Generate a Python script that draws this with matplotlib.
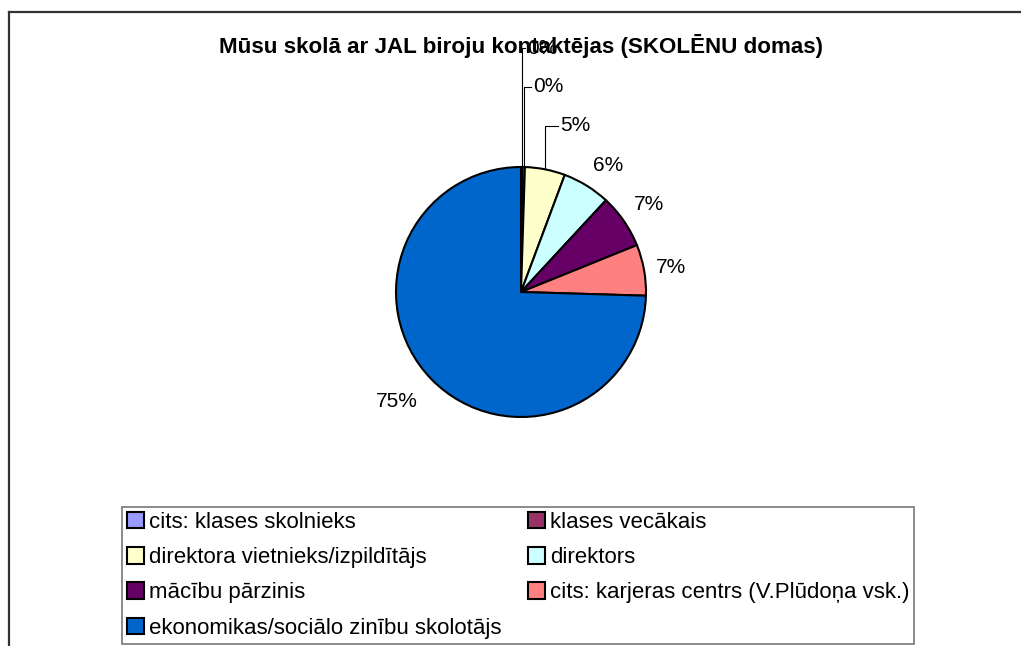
import matplotlib
matplotlib.use("Agg")
import matplotlib.pyplot as plt
import numpy as np

plt.rcParams['font.family'] = ['Liberation Sans', 'DejaVu Sans']

title = "Mūsu skolā ar JAL biroju kontaktējas (SKOLĒNU domas)"
categories = [
    "cits: klases skolnieks",
    "klases vecākais",
    "direktora vietnieks/izpildītājs",
    "direktors",
    "mācību pārzinis",
    "cits: karjeras centrs (V.Plūdoņa vsk.)",
    "ekonomikas/sociālo zinību skolotājs",
]
values = [0.15, 0.35, 5.2, 6.2, 7.0, 6.6, 74.6]
colors = ["#9999FF", "#993366", "#FFFFCC", "#CCFFFF", "#660066", "#FF8080", "#0066CC"]

W, H = 1021, 646
fig = plt.figure(figsize=(W / 100, H / 100), dpi=100)

# outer chart frame (extends past right/bottom edge)
fig.add_artist(plt.Line2D([9 / W, 1.01], [1 - 12 / H, 1 - 12 / H], color="#333333", lw=1.6,
                          transform=fig.transFigure))
fig.add_artist(plt.Line2D([9 / W, 9 / W], [1 - 12 / H, -0.01], color="#333333", lw=1.6,
                          transform=fig.transFigure))

cx, cy, r = 521, 292, 125
ax = fig.add_axes([(cx - r) / W, (H - cy - r) / H, 2 * r / W, 2 * r / H])
wedges, _ = ax.pie(values, colors=colors, startangle=90, counterclock=False,
                   wedgeprops=dict(edgecolor="black", linewidth=1.5))
ax.set_xlim(-1, 1)
ax.set_ylim(-1, 1)
ax.set_aspect("equal")
ax.axis("off")

total = sum(values)
pct = [v / total * 100 for v in values]
labels = [f"{p:.0f}%" for p in pct]
cum = np.cumsum([0] + pct)
mid_deg = [(cum[i] + cum[i + 1]) / 2 * 3.6 for i in range(len(values))]

lab_fs = 15
# labels with leader lines for the small slices (text level y, text left x)
leader = {0: (1.95, 0.05), 1: (1.64, 0.096), 2: (1.33, 0.312)}
for i, (ly, lx) in leader.items():
    a = np.deg2rad(mid_deg[i])
    ex, ey = np.sin(a), np.cos(a)
    ax.plot([ex, ex, lx - 0.02], [ey, ly, ly], color="black", lw=0.8, clip_on=False)
    ax.text(lx, ly, labels[i], ha="left", va="center", fontsize=lab_fs, clip_on=False)

for i in range(3, len(values)):
    a = np.deg2rad(mid_deg[i])
    sx, sy = np.sin(a), np.cos(a)
    rr = 1.1 if i < 6 else 1.15
    ha = "left" if sx > 0 else "right"
    if abs(sy) < 0.3:
        va = "center"
    else:
        va = "bottom" if sy > 0 else "top"
    ax.text(rr * sx, rr * sy, labels[i], ha=ha, va=va, fontsize=lab_fs, clip_on=False)

fig.text(521 / W, 1 - 46 / H, title, ha="center", va="center", fontsize=16.1,
         fontweight="bold", zorder=5)

# legend (row-major order in the original -> reorder for column filling)
order = [0, 2, 4, 6, 1, 3, 5]
leg = fig.legend([wedges[i] for i in order], [categories[i] for i in order],
                 loc="upper left", bbox_to_anchor=(122 / W, 1 - 507 / H),
                 bbox_transform=fig.transFigure, ncol=2, fontsize=16,
                 frameon=True, fancybox=False, borderaxespad=0,
                 handlelength=0.77, handleheight=0.77, handletextpad=0.23,
                 borderpad=0.22, labelspacing=0.64, columnspacing=1.17)
leg.get_frame().set_edgecolor("#555555")
leg.get_frame().set_linewidth(1.2)

fig.savefig("out.png", dpi=100)
